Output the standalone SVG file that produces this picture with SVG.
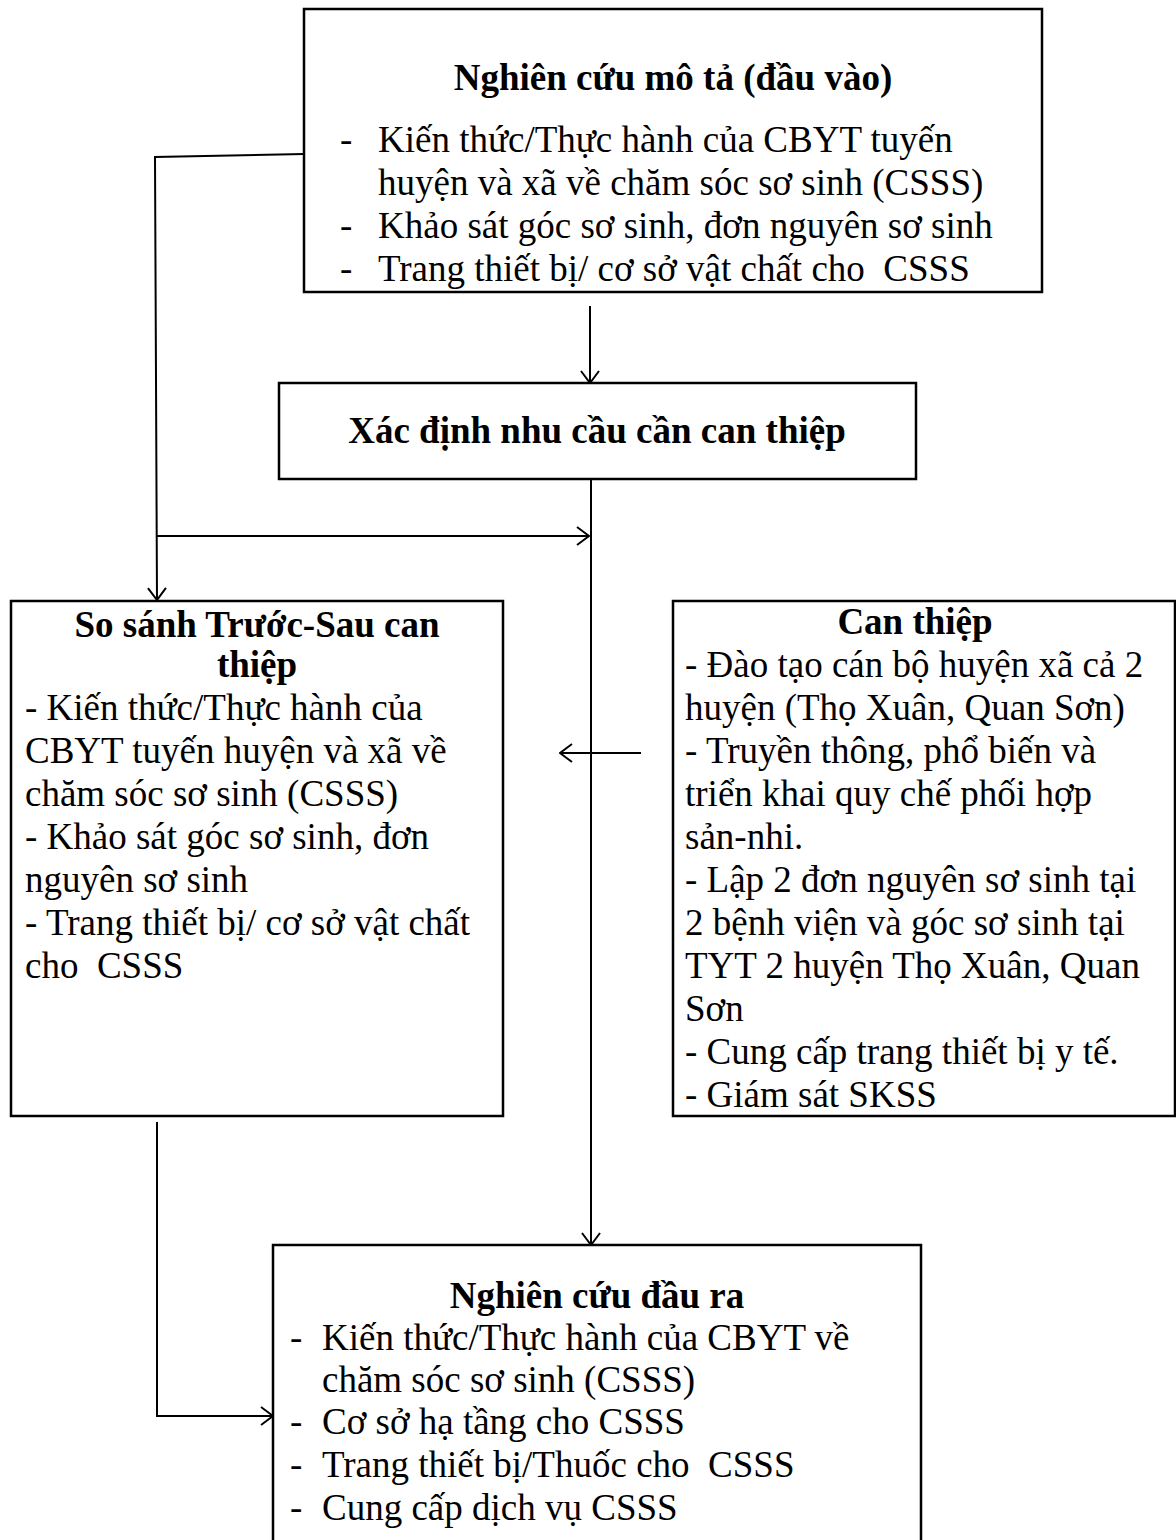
<svg xmlns="http://www.w3.org/2000/svg" width="1176" height="1540" viewBox="0 0 1176 1540">
<style>
.box{fill:#fff;stroke:#000;stroke-width:2.5}
.t{font-family:"Liberation Serif","Times New Roman",serif;font-size:37px;fill:#000}
.b{font-weight:bold}
.c{text-anchor:middle}
.ln{fill:none;stroke:#000;stroke-width:2}
</style>
<defs>
<marker id="ah" viewBox="0 0 14 20" refX="13" refY="10" markerWidth="14" markerHeight="20" markerUnits="userSpaceOnUse" orient="auto">
<polyline points="1,1 13,10 1,19" fill="none" stroke="#000" stroke-width="2"/>
</marker>
</defs>
<rect width="1176" height="1540" fill="#fff"/>
<g id="n1">
<rect class="box" x="304" y="9" width="738" height="283"/>
<text class="t b c" x="673" y="90">Nghiên cứu mô tả (đầu vào)</text>
<text class="t" x="340" y="152">-</text><text class="t" x="378" y="152">Kiến thức/Thực hành của CBYT tuyến</text>
<text class="t" x="378" y="195">huyện và xã về chăm sóc sơ sinh (CSSS)</text>
<text class="t" x="340" y="238">-</text><text class="t" x="378" y="238">Khảo sát góc sơ sinh, đơn nguyên sơ sinh</text>
<text class="t" x="340" y="281">-</text><text class="t" x="378" y="281">Trang thiết bị/ cơ sở vật chất cho&#160; CSSS</text>
</g>
<g id="n2">
<rect class="box" x="279" y="383" width="637" height="96"/>
<text class="t b c" x="597" y="443">Xác định nhu cầu cần can thiệp</text>
</g>
<g id="n3">
<rect class="box" x="11" y="601" width="492" height="515"/>
<text class="t b c" x="257" y="637">So sánh Trước-Sau can</text>
<text class="t b c" x="257" y="677">thiệp</text>
<text class="t" x="25" y="720">- Kiến thức/Thực hành của</text>
<text class="t" x="25" y="763">CBYT tuyến huyện và xã về</text>
<text class="t" x="25" y="806">chăm sóc sơ sinh (CSSS)</text>
<text class="t" x="25" y="849">- Khảo sát góc sơ sinh, đơn</text>
<text class="t" x="25" y="892">nguyên sơ sinh</text>
<text class="t" x="25" y="935">- Trang thiết bị/ cơ sở vật chất</text>
<text class="t" x="25" y="978">cho&#160; CSSS</text>
</g>
<g id="n4">
<rect class="box" x="673" y="601" width="502" height="515"/>
<text class="t b c" x="915" y="634">Can thiệp</text>
<text class="t" x="685" y="677">- Đào tạo cán bộ huyện xã cả 2</text>
<text class="t" x="685" y="720">huyện (Thọ Xuân, Quan Sơn)</text>
<text class="t" x="685" y="763">- Truyền thông, phổ biến và</text>
<text class="t" x="685" y="806">triển khai quy chế phối hợp</text>
<text class="t" x="685" y="849">sản-nhi.</text>
<text class="t" x="685" y="892">- Lập 2 đơn nguyên sơ sinh tại</text>
<text class="t" x="685" y="935">2 bệnh viện và góc sơ sinh tại</text>
<text class="t" x="685" y="978">TYT 2 huyện Thọ Xuân, Quan</text>
<text class="t" x="685" y="1021">Sơn</text>
<text class="t" x="685" y="1064">- Cung cấp trang thiết bị y tế.</text>
<text class="t" x="685" y="1107">- Giám sát SKSS</text>
</g>
<g id="n5">
<rect class="box" x="273" y="1245" width="648" height="320"/>
<text class="t b c" x="597" y="1308">Nghiên cứu đầu ra</text>
<text class="t" x="290" y="1350">-</text><text class="t" x="322" y="1350">Kiến thức/Thực hành của CBYT về</text>
<text class="t" x="322" y="1392">chăm sóc sơ sinh (CSSS)</text>
<text class="t" x="290" y="1434">-</text><text class="t" x="322" y="1434">Cơ sở hạ tầng cho CSSS</text>
<text class="t" x="290" y="1477">-</text><text class="t" x="322" y="1477">Trang thiết bị/Thuốc cho&#160; CSSS</text>
<text class="t" x="290" y="1520">-</text><text class="t" x="322" y="1520">Cung cấp dịch vụ CSSS</text>
</g>
<g id="connectors">
<polyline class="ln" points="304,154 155,157 157,600" marker-end="url(#ah)"/>
<line class="ln" x1="157" y1="536" x2="589" y2="536" marker-end="url(#ah)"/>
<line class="ln" x1="590" y1="306" x2="590" y2="383" marker-end="url(#ah)"/>
<line class="ln" x1="591" y1="479" x2="591" y2="1245" marker-end="url(#ah)"/>
<line class="ln" x1="641" y1="753" x2="560" y2="753" marker-end="url(#ah)"/>
<polyline class="ln" points="157,1122 157,1416 273,1416" marker-end="url(#ah)"/>
</g>
</svg>
